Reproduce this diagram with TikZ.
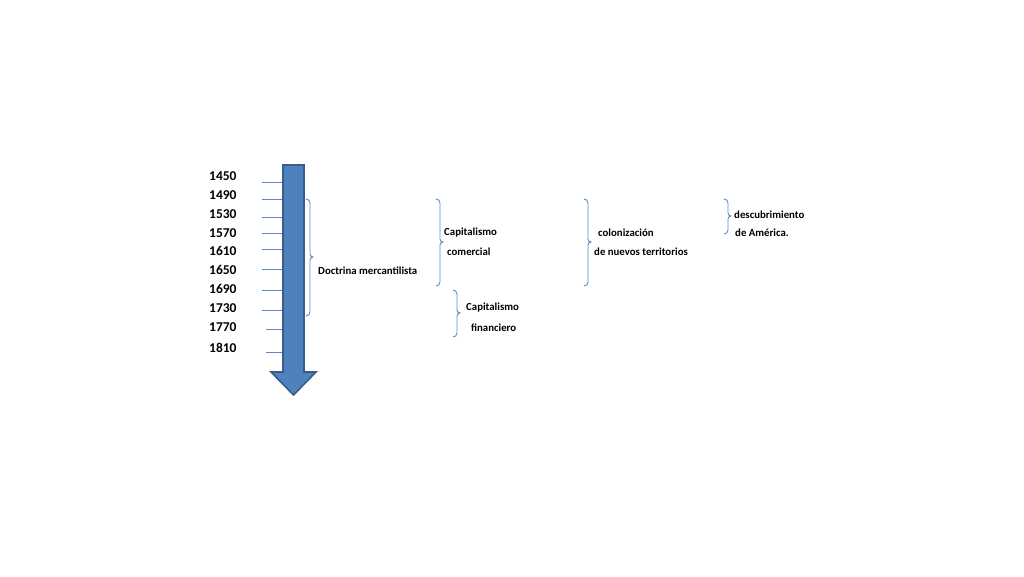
\documentclass[tikz,border=0pt]{standalone}
\usepackage{fontspec}
\setmainfont{Carlito}
\definecolor{arrfill}{HTML}{4F81BD}
\definecolor{arredge}{HTML}{385D8A}
\definecolor{brk}{HTML}{5B8AC6}
\tikzset{
  year/.style={anchor=west,inner sep=0pt,font=\bfseries\fontsize{13.5}{13.5}\selectfont},
  lbl/.style={anchor=west,inner sep=0pt,font=\bfseries\fontsize{10.8}{10.8}\selectfont},
  tick/.style={draw=brk,line width=0.8pt},
  brak/.style={draw=brk,line width=0.9pt},
}
\newcommand\mybrak[4]{% x, top, bottom, mid
  \draw[brak] (#1-4,#2) to[out=0,in=90] (#1,#2+4) -- (#1,#4-3) to[out=-90,in=180] (#1+3,#4)
     to[out=180,in=90] (#1,#4+3) -- (#1,#3-4) to[out=-90,in=0] (#1-4,#3);}
\begin{document}
\begin{tikzpicture}[x=1pt,y=-1pt]
\useasboundingbox[fill=white] (0,0) rectangle (1024,576);
% years
\node[year] (y1450) at (209,176) {1450};
\node[year] (y1490) at (209,195) {1490};
\node[year] (y1530) at (209,214) {1530};
\node[year] (y1570) at (209,233) {1570};
\node[year] (y1610) at (209,251) {1610};
\node[year] (y1650) at (209,270) {1650};
\node[year] (y1690) at (209,289) {1690};
\node[year] (y1730) at (209,308) {1730};
\node[year] (y1770) at (209,327) {1770};
\node[year] (y1810) at (209,348) {1810};
% ticks
\foreach \yy in {182,199,217,233,249,269,290,310}{\draw[tick] (262,\yy) -- (283,\yy);}
\foreach \yy in {329,352}{\draw[tick] (266,\yy) -- (283,\yy);}
% arrow
\draw[fill=arrfill,draw=arredge,line width=1.6pt,line join=miter]
  (283,165) -- (304,165) -- (304,372) -- (316,372) -- (293.5,395) -- (271,372) -- (283,372) -- cycle;
% brackets
\mybrak{310}{199}{316}{257}
\mybrak{440}{199}{286}{242}
\mybrak{457}{290}{337}{313}
\mybrak{588}{199}{286}{242}
\mybrak{728}{199}{234}{216}
% labels
\node[lbl] (doc) at (318,271) {Doctrina mercantilista};
\node[lbl] (cap1) at (444,233) {Capitalismo};
\node[lbl] (com) at (447,252) {comercial};
\node[lbl] (cap2) at (466,308) {Capitalismo};
\node[lbl] (fin) at (471,328) {financiero};
\node[lbl] (col) at (598,233) {colonización};
\node[lbl] (nue) at (594,252) {de nuevos territorios};
\node[lbl] (des) at (734,215) {descubrimiento};
\node[lbl] (ame) at (735,233) {de América.};
\end{tikzpicture}
\end{document}
